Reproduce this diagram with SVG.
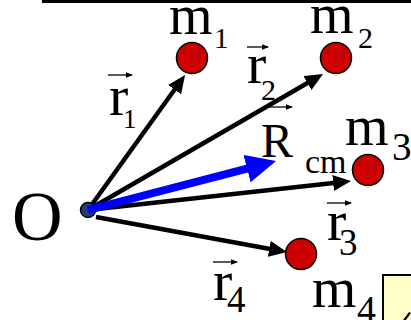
<svg xmlns="http://www.w3.org/2000/svg" width="411" height="320" viewBox="0 0 411 320">
<defs>
<style>
.t{font-family:"Liberation Serif","Times New Roman",serif;fill:#000}
.mass{fill:#cc0000;stroke:#000;stroke-width:1.5}
.vec{stroke:#000;stroke-width:4.5;fill:none;marker-end:url(#ah)}
.ov{stroke:#000;stroke-width:1.3;fill:none;marker-end:url(#sh)}
</style>
<marker id="ah" markerUnits="userSpaceOnUse" markerWidth="19" markerHeight="17" refX="5" refY="8" orient="auto"><path d="M0,0 L18,8 L0,16 z" fill="#000"/></marker>
<marker id="bh" markerUnits="userSpaceOnUse" markerWidth="31" markerHeight="29" refX="6" refY="14.25" orient="auto"><path d="M0,0 L30,14.25 L0,28.5 z" fill="#0000ff"/></marker>
<marker id="sh" markerUnits="userSpaceOnUse" markerWidth="8" markerHeight="6" refX="6" refY="2.75" orient="auto"><path d="M0,0 L7,2.75 L0,5.5 z" fill="#000"/></marker>
</defs>
<rect width="411" height="320" fill="#fff"/>
<line x1="42" y1="1.5" x2="411" y2="1.5" stroke="#000" stroke-width="3"/>
<g id="connectors">
<line class="vec" x1="88" y1="210" x2="177.5" y2="85.5"/>
<line class="vec" x1="88" y1="210" x2="311.8" y2="80.5"/>
<line class="vec" x1="88" y1="210" x2="338.1" y2="182.5"/>
<line class="vec" x1="96" y1="217" x2="274.2" y2="249.7"/>
</g>
<g id="O">
<circle cx="88" cy="210" r="7.5" fill="#1f3f75" stroke="#000" stroke-width="1.5"/>
<text class="t" x="12" y="240" font-size="70">O</text>
</g>
<g id="Rcm">
<line x1="88" y1="210" x2="252.8" y2="167.05" stroke="#0000ff" stroke-width="8" marker-end="url(#bh)"/>
<line class="ov" x1="268" y1="107" x2="292" y2="107"/>
<text class="t" x="261" y="157" font-size="48">R</text>
<text class="t" x="305" y="173" font-size="34">cm</text>
</g>
<g id="m1">
<circle class="mass" cx="192" cy="58" r="15.5"/>
<text class="t" x="169" y="34" font-size="56">m</text>
<text class="t" x="214" y="48" font-size="29">1</text>
</g>
<g id="m2">
<circle class="mass" cx="336" cy="58" r="15.5"/>
<text class="t" x="310" y="33" font-size="56">m</text>
<text class="t" x="358" y="48" font-size="30">2</text>
</g>
<g id="m3">
<circle class="mass" cx="368" cy="170" r="15.5"/>
<text class="t" x="345" y="145" font-size="56">m</text>
<text class="t" x="392" y="160" font-size="39">3</text>
</g>
<g id="m4">
<circle class="mass" cx="301" cy="254" r="15.5"/>
<text class="t" x="312" y="307" font-size="57">m</text>
<text class="t" x="357" y="322" font-size="38">4</text>
</g>
<g id="r1">
<line class="ov" x1="108" y1="75" x2="132" y2="75"/>
<text class="t" x="109" y="115" font-size="58">r</text>
<text class="t" x="123" y="128" font-size="27">1</text>
</g>
<g id="r2">
<line class="ov" x1="247" y1="47" x2="268" y2="47"/>
<text class="t" x="247" y="83" font-size="58">r</text>
<text class="t" x="261" y="100" font-size="30">2</text>
</g>
<g id="r3">
<line class="ov" x1="327" y1="203" x2="351" y2="203"/>
<text class="t" x="327" y="240" font-size="58">r</text>
<text class="t" x="339" y="255" font-size="37">3</text>
</g>
<g id="r4">
<line class="ov" x1="213" y1="262" x2="237" y2="262"/>
<text class="t" x="213" y="300" font-size="58">r</text>
<text class="t" x="227" y="312" font-size="37">4</text>
</g>
<g id="box">
<rect x="383" y="275" width="40" height="60" fill="#ffffcc" stroke="#000" stroke-width="2"/>
<path d="M403,320 L409,312 L411,313 L406,320 z" fill="#000"/>
</g>
</svg>
